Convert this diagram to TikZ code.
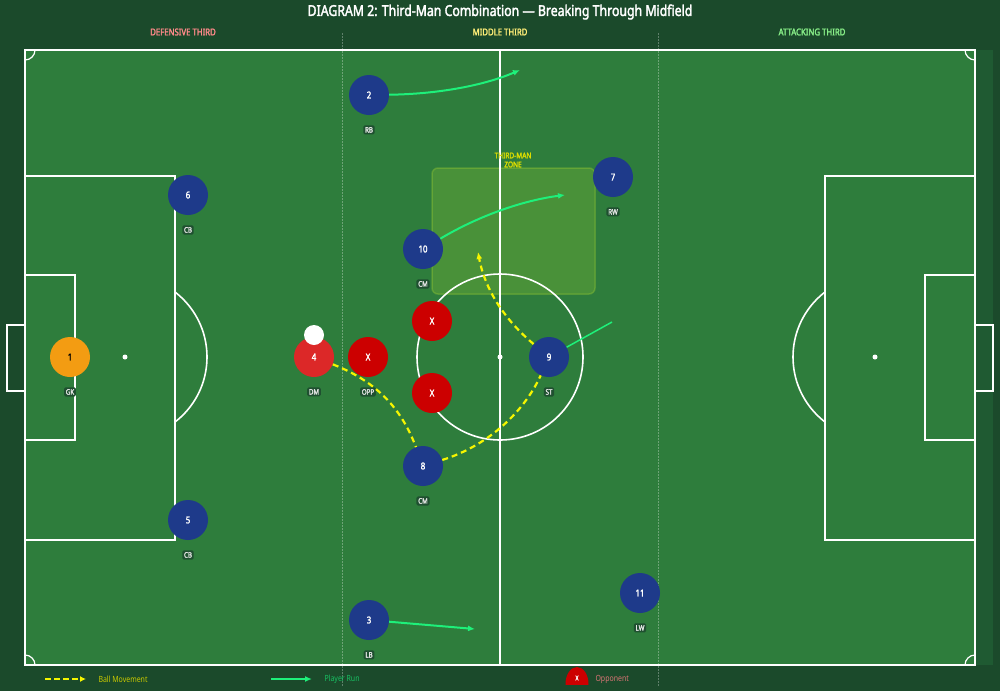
\documentclass[tikz,border=0pt]{standalone}
\usepackage{fontspec}
\setmainfont{Noto Sans}[FakeStretch=0.82, BoldFont={Noto Sans}, BoldFeatures={FakeBold=2.2}]
\usetikzlibrary{arrows.meta,positioning}

\definecolor{bgdark}{HTML}{1B4A2B}
\definecolor{pitchgreen}{HTML}{2E7D3C}
\definecolor{sidestrip}{HTML}{1F5A32}
\definecolor{teamblue}{HTML}{1E3A8A}
\definecolor{oppred}{HTML}{CC0000}
\definecolor{dmred}{HTML}{DC2828}
\definecolor{gkorange}{HTML}{F39C12}
\definecolor{runcolor}{HTML}{1EF07A}
\definecolor{ballyellow}{HTML}{F5F500}
\definecolor{zonecolor}{HTML}{9ACD32}
\definecolor{tagfill}{HTML}{1F5030}
\definecolor{defcolor}{HTML}{FF8A8A}
\definecolor{midcolor}{HTML}{FFEE77}
\definecolor{attcolor}{HTML}{88EE88}

\tikzset{
  pitchline/.style={white, line width=1.6pt},
  thirdline/.style={white, opacity=0.3, line width=0.8pt, dash pattern=on 1.5pt off 1.5pt},
  player/.style={circle, minimum size=40pt, inner sep=0pt, text=white,
    font=\bfseries\fontsize{9.5}{10}\selectfont},
  tag/.style={fill=tagfill, rounded corners=1.5pt, inner sep=1.8pt, text=white!90!black,
    font=\bfseries\fontsize{7.5}{8}\selectfont},
  run/.style={runcolor, line width=2pt, -{Latex[length=7pt,width=6pt]}},
  ballmove/.style={ballyellow, line width=2.2pt, dash pattern=on 6pt off 4pt},
  thirdlabel/.style={font=\bfseries\fontsize{9.5}{10}\selectfont},
  legendtext/.style={anchor=west, font=\fontsize{8.5}{9}\selectfont}
}

\begin{document}
\begin{tikzpicture}[x=1pt,y=-1pt]
\useasboundingbox (0,0) rectangle (1000,691);

% Background and pitch
\fill[bgdark] (0,0) rectangle (1000,691);
\fill[sidestrip] (975,50) rectangle (993,665);
\fill[pitchgreen] (25,50) rectangle (975,665);

% Third-man zone
\draw[zonecolor, line width=1.5pt, draw opacity=0.35, fill opacity=0.25, fill=zonecolor,
  rounded corners=6pt] (432,168) rectangle (595,294);

% Pitch markings
\draw[pitchline] (25,50) rectangle (975,665);
\draw[pitchline] (500,50) -- (500,665);
\draw[pitchline] (500,357) circle (83);
\fill[white] (500,357) circle (2.5);
\draw[pitchline] (25,176) rectangle (175,540);
\draw[pitchline] (25,275) rectangle (75,440);
\draw[pitchline] (25,325) -- (7,325) -- (7,391) -- (25,391);
\fill[white] (125,357) circle (2.5);
\draw[pitchline] (825,176) rectangle (975,540);
\draw[pitchline] (925,275) rectangle (975,440);
\draw[pitchline] (975,325) -- (993,325) -- (993,391) -- (975,391);
\fill[white] (875,357) circle (2.5);
\begin{scope}
  \clip (175,50) rectangle (500,665);
  \draw[pitchline] (125,357) circle (82);
\end{scope}
\begin{scope}
  \clip (500,50) rectangle (825,665);
  \draw[pitchline] (875,357) circle (82);
\end{scope}
% Corner arcs
\begin{scope}
  \clip (25,50) rectangle (975,665);
  \foreach \cx/\cy in {25/50,975/50,25/665,975/665} {
    \draw[white, line width=1.2pt] (\cx,\cy) circle (10);
  }
\end{scope}

% Thirds
\draw[thirdline] (342,33) -- (342,686);
\draw[thirdline] (658,33) -- (658,686);

% Titles
\node[text=white, font=\bfseries\fontsize{15}{16}\selectfont] (title) at (500,12)
  {DIAGRAM 2: Third-Man Combination — Breaking Through Midfield};
\node[thirdlabel, text=defcolor] (defthird) at (183,32) {DEFENSIVE THIRD};
\node[thirdlabel, text=midcolor] (midthird) at (500,32) {MIDDLE THIRD};
\node[thirdlabel, text=attcolor] (attthird) at (812,32) {ATTACKING THIRD};
\node[text=ballyellow!90!black, align=center, font=\bfseries\fontsize{8}{9}\selectfont]
  (zonelabel) at (513,160) {THIRD-MAN\\ZONE};

% Players
\node[player, fill=gkorange, text=black] (p1) at (70,357) {1};
\node[tag, below=10pt of p1] {GK};
\foreach \n/\x/\y/\r in {6/188/195/CB, 5/188/520/CB, 2/369/95/RB, 3/369/620/LB,
    10/423/249/CM, 8/423/466/CM, 9/549/357/ST, 7/613/177/RW, 11/640/593/LW} {
  \node[player, fill=teamblue] (p\n) at (\x,\y) {\n};
  \node[tag, below=10pt of p\n] {\r};
}
\node[player, fill=dmred] (p4) at (314,357) {4};
\node[tag, below=10pt of p4] {DM};
\fill[white] (314,335) circle (10);

% Opponents
\node[player, fill=oppred] (o1) at (368,357) {X};
\node[tag, below=10pt of o1] {OPP};
\node[player, fill=oppred] (o2) at (432,321) {X};
\node[player, fill=oppred] (o3) at (432,393) {X};

% Player runs
\coordinate (rbend) at (520,70);
\coordinate (cmend) at (565,195);
\coordinate (lbend) at (475,629);
\coordinate (stend) at (612,322);
\draw[run] (p2) .. controls (440,94) and (485,85) .. (rbend);
\draw[run] (p10) .. controls (480,215) and (525,200) .. (cmend);
\draw[run] (p3) -- (lbend);
\draw[runcolor, line width=1.5pt] (p9) -- (stend);

% Ball movement
\coordinate (ballend) at (478,252);
\draw[ballmove] (p4) .. controls (378,382) and (402,410) .. (p8);
\draw[ballmove] (p8) .. controls (490,445) and (525,410) .. (p9);
\draw[ballmove, -{Latex[length=7pt,width=6pt]}] (p9) .. controls (505,320) and (485,290) .. (ballend);

% Legend
\coordinate (lg1) at (45,679);
\coordinate (lg2) at (86,679);
\draw[ballmove, dash pattern=on 6pt off 3pt, -{Latex[length=6pt,width=6pt]}] (lg1) -- (lg2);
\node[legendtext, text=ballyellow!82!black] (lgball) at (95,679) {Ball Movement};
\coordinate (lg3) at (271,679);
\coordinate (lg4) at (312,679);
\draw[run] (lg3) -- (lg4);
\node[legendtext, text=runcolor!80!black] (lgrun) at (321,679) {Player Run};
\begin{scope}
  \clip (560,660) rectangle (600,684);
  \fill[oppred] (577,684) ellipse (11.5 and 17);
\end{scope}
\node[text=white, font=\bfseries\fontsize{6.5}{7}\selectfont] (lgopp) at (577,678) {X};
\node[legendtext, text=defcolor!85!black] (lgopptext) at (592,679) {Opponent};

\end{tikzpicture}
\end{document}
